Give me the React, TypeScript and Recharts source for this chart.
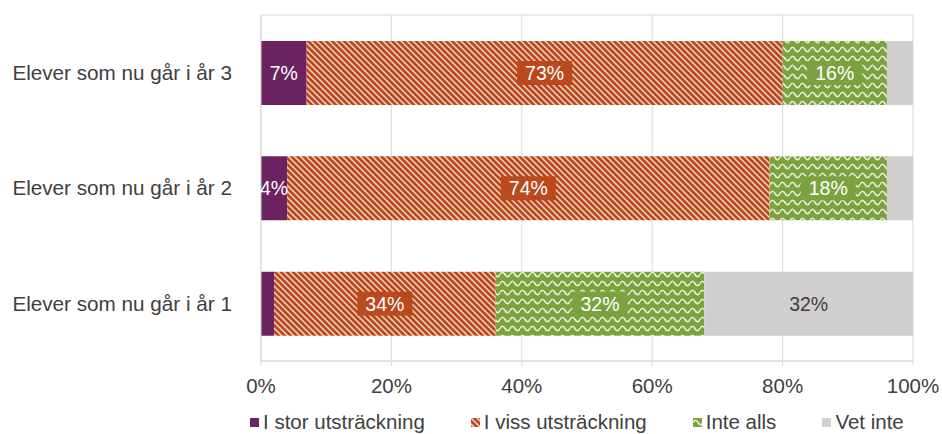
import React from 'react'
import { BarChart, Bar, XAxis, YAxis, CartesianGrid, LabelList, Legend } from 'recharts'

const FONT = '"Liberation Sans", Arial, sans-serif'

const categories = ['Elever som nu går i år 3', 'Elever som nu går i år 2', 'Elever som nu går i år 1']
const storValues = [7, 4, 2]
const vissValues = [73, 74, 34]
const inteValues = [16, 18, 32]
const vetValues = [4, 4, 32]
const xTicks = [0, 20, 40, 60, 80, 100]

const SERIES = [
  { key: 'stor', name: 'I stor utsträckning', fill: '#6B2362', base: '#6B2362', text: '#FFFFFF', min: 4, box: false },
  { key: 'viss', name: 'I viss utsträckning', fill: 'url(#stripes)', base: '#BA4A1E', text: '#FFFFFF', min: 4, box: true },
  { key: 'inte', name: 'Inte alls', fill: 'url(#waves)', base: '#7BA23F', text: '#FFFFFF', min: 4, box: true },
  { key: 'vet', name: 'Vet inte', fill: '#D0CECE', base: '#D0CECE', text: '#404040', min: 10, box: false },
]

const data = categories.map((name, i) => ({
  name,
  stor: storValues[i],
  viss: vissValues[i],
  inte: inteValues[i],
  vet: vetValues[i],
}))

function makeLabel(s: typeof SERIES[number]) {
  return (props: any) => {
    const { x, y, width, height, value } = props
    if (value == null || value < s.min) return null
    const text = `${value}%`
    const fs = 19.5
    const tw = [...text].reduce((a, ch) => a + (ch === '%' ? 0.889 : 0.556), 0) * fs
    const cx = Number(x) + Number(width) / 2
    const cy = Number(y) + Number(height) / 2
    return (
      <g>
        {s.box && <rect x={cx - tw / 2 - 8} y={cy - 12} width={tw + 16} height={24} fill={s.base} />}
        <text x={cx} y={cy} textAnchor="middle" dominantBaseline="central" fill={s.text} fontSize={fs} fontFamily={FONT}>
          {text}
        </text>
      </g>
    )
  }
}

function LegendContent() {
  return (
    <div style={{ display: 'flex', gap: 46, alignItems: 'center', fontFamily: FONT, fontSize: 20.5, color: '#404040', whiteSpace: 'nowrap', height: 24 }}>
      {SERIES.map(s => (
        <span key={s.key} style={{ display: 'flex', alignItems: 'center', gap: 4 }}>
          <svg width={9} height={9} style={{ display: 'block' }}>
            <rect width={9} height={9} fill={s.fill} />
          </svg>
          {s.name}
        </span>
      ))}
    </div>
  )
}

export default function App() {
  return (
    <div style={{ position: 'absolute', left: 0, top: 0, width: 942, height: 434, overflow: 'hidden', background: '#fff', fontFamily: FONT }}>
      <BarChart
        width={942}
        height={434}
        data={data}
        layout="vertical"
        margin={{ top: 15, right: 29, left: 0, bottom: 19 }}
        barSize={64}
      >
        <defs>
          <pattern id="stripes" patternUnits="userSpaceOnUse" width={6} height={6}>
            <rect width={6} height={6} fill="#BA4A1E" />
            <path d="M-1,-1 L7,7 M-4,2 L2,8 M2,-4 L8,2" stroke="#F2D6C8" strokeWidth={1.5} />
          </pattern>
          <pattern id="waves" patternUnits="userSpaceOnUse" width={10} height={9}>
            <rect width={10} height={9} fill="#7BA23F" />
            <path d="M0,4.5 Q2.5,0 5,4.5 T10,4.5" fill="none" stroke="#E2ECD2" strokeWidth={1.7} />
          </pattern>
        </defs>
        <CartesianGrid
          stroke="#D9D9D9"
          horizontalCoordinatesGenerator={({ offset }: any) => [offset.top, offset.top + offset.height]}
        />
        <XAxis
          type="number"
          domain={[0, 100]}
          ticks={xTicks}
          tickFormatter={(v: number) => `${v}%`}
          axisLine={{ stroke: '#D9D9D9' }}
          tickLine={{ stroke: '#D9D9D9' }}
          tickSize={5}
          tickMargin={12}
          height={30}
          tick={{ fill: '#404040', fontSize: 20.5, fontFamily: FONT }}
        />
        <YAxis
          type="category"
          dataKey="name"
          width={261}
          tickSize={0}
          tickMargin={29}
          tickLine={false}
          axisLine={{ stroke: '#D9D9D9' }}
          tick={{ fill: '#404040', fontSize: 20.7, fontFamily: FONT }}
        />
        <Legend
          verticalAlign="bottom"
          content={() => <LegendContent />}
          wrapperStyle={{ left: 250, bottom: 0, width: 'auto', height: 24, lineHeight: '24px' }}
        />
        {SERIES.map(s => (
          <Bar key={s.key} dataKey={s.key} name={s.name} stackId="a" fill={s.fill} isAnimationActive={false}>
            <LabelList dataKey={s.key} content={makeLabel(s)} />
          </Bar>
        ))}
      </BarChart>
    </div>
  )
}
